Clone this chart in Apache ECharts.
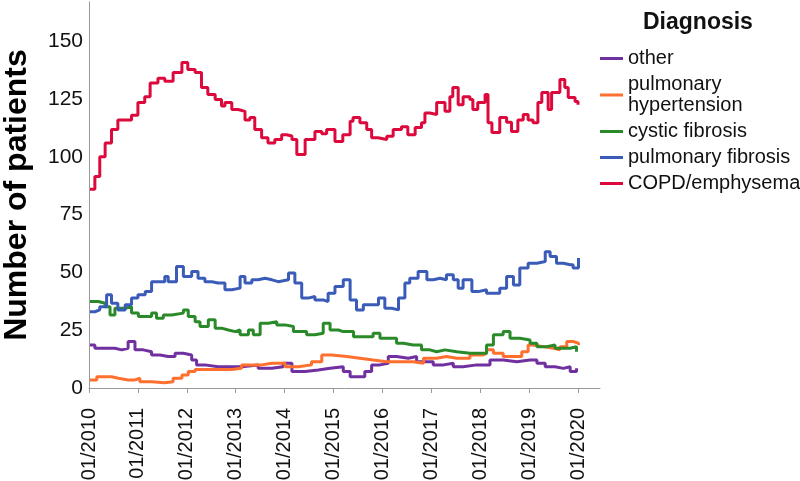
<!DOCTYPE html>
<html>
<head>
<meta charset="utf-8">
<script src="https://cdn.jsdelivr.net/npm/echarts@6/dist/echarts.min.js"></script>
<style>html,body{margin:0;padding:0;background:#fff}#c{width:800px;height:481px}</style>
</head>
<body>
<div id="c"></div>
<script>
// Series names (legend order)
const seriesNames = ['other', 'pulmonary\nhypertension', 'cystic fibrosis', 'pulmonary fibrosis', 'COPD/emphysema'];
// X tick labels (years, shown as 01/YYYY)
const xTickYears = [2010, 2011, 2012, 2013, 2014, 2015, 2016, 2017, 2018, 2019, 2020];
const yTickValues = [0, 25, 50, 75, 100, 125, 150];

// other
const otherYears = [2010.02,2010.12,2010.33,2010.53,2010.67,2010.80,2010.94,2011.11,2011.28,2011.45,2011.62,2011.76,2011.93,2012.10,2012.20,2012.37,2012.64,2012.92,2013.12,2013.46,2013.74,2013.97,2014.15,2014.42,2014.69,2014.93,2015.20,2015.34,2015.51,2015.64,2015.78,2015.95,2016.12,2016.29,2016.53,2016.70,2016.87,2017.04,2017.25,2017.45,2017.65,2017.93,2018.20,2018.47,2018.75,2019.02,2019.16,2019.33,2019.53,2019.70,2019.84,2019.97];
const otherValues = [18.6,17.2,17.2,16.5,17.2,20.1,16.5,15.7,14.3,13.6,13.6,15,14.3,12.1,10,9.2,9.2,9.2,10,8.5,9.2,10.7,7.1,7.8,8.5,9.2,7.1,4.9,4.9,7.1,10,10.7,13.6,12.9,13.6,11.4,11.4,10,10.7,9.2,10,10,12.1,11.4,12.1,12.1,10.7,9.2,8.5,9.2,7.1,8.5];

// pulmonary hypertension
const phYears = [2010.02,2010.16,2010.33,2010.46,2010.60,2010.80,2010.94,2011.04,2011.28,2011.55,2011.72,2011.90,2012.03,2012.17,2012.44,2012.71,2012.92,2013.12,2013.39,2013.53,2013.74,2014.01,2014.28,2014.55,2014.76,2014.96,2015.27,2015.54,2015.81,2016.09,2016.36,2016.63,2016.84,2017.11,2017.31,2017.52,2017.79,2018.06,2018.13,2018.27,2018.47,2018.68,2018.85,2018.98,2019.08,2019.29,2019.50,2019.63,2019.77,2019.90,2020.01];
const phValues = [3.5,4.9,4.9,4.2,3.5,3.5,4.2,2.7,2.3,2.7,4.2,5.6,7.1,8,8,8,8.5,10,10,10.7,10.7,9.2,10,11.4,14.3,13.6,12.9,12.1,11.4,11.4,11.4,10.7,12.9,13.6,12.9,12.9,14.3,15,16.5,15,13.6,13.6,15.7,18.6,17.9,17.2,16.5,17.9,20.1,19.4,18.6];

// cystic fibrosis
const cfYears = [2010.02,2010.19,2010.33,2010.43,2010.53,2010.74,2010.87,2011.01,2011.15,2011.28,2011.38,2011.52,2011.69,2011.93,2012.03,2012.17,2012.27,2012.44,2012.58,2012.71,2012.85,2012.99,2013.09,2013.26,2013.36,2013.50,2013.67,2013.84,2014.01,2014.18,2014.31,2014.45,2014.62,2014.79,2014.93,2015.10,2015.20,2015.41,2015.61,2015.81,2015.95,2016.12,2016.29,2016.43,2016.63,2016.80,2016.97,2017.11,2017.28,2017.52,2017.79,2017.99,2018.13,2018.27,2018.47,2018.61,2018.81,2019.02,2019.16,2019.36,2019.53,2019.70,2019.84,2019.97];
const cfValues = [37.4,36.7,35.2,31.6,34.5,35.2,32.4,30.9,30.9,32.4,30.2,31.6,32.4,33.8,30.9,28.7,26.6,29.5,25.9,25.1,24.4,25.1,23,25.1,23,28,28.7,27.3,26.6,24.4,24.4,23,23.7,28,25.1,24.4,24.4,22.2,22.2,23.7,21.5,21.5,19.4,18.6,18.6,16.5,15.7,16.5,15.7,15,15,15,18.6,23,24.4,21.5,20.8,19.4,17.9,18.6,17.2,17.2,17.9,15.7];

// pulmonary fibrosis
const pfYears = [2010.02,2010.12,2010.22,2010.36,2010.46,2010.59,2010.74,2010.87,2011.00,2011.15,2011.28,2011.41,2011.55,2011.62,2011.79,2011.93,2012.10,2012.23,2012.37,2012.51,2012.64,2012.78,2012.92,2013.09,2013.19,2013.33,2013.46,2013.60,2013.74,2013.87,2014.08,2014.21,2014.35,2014.48,2014.62,2014.79,2014.89,2015.03,2015.20,2015.34,2015.47,2015.61,2015.75,2015.92,2016.05,2016.19,2016.33,2016.46,2016.56,2016.73,2016.91,2017.04,2017.18,2017.31,2017.45,2017.55,2017.65,2017.83,2017.96,2018.13,2018.27,2018.40,2018.54,2018.68,2018.81,2018.98,2019.16,2019.33,2019.43,2019.56,2019.70,2019.84,2019.90,2020.01];
const pfValues = [33,33.8,35.2,40.3,36.7,33.8,36,38.9,40.3,41.7,46,46,48.2,46,52.6,48.2,50.4,47.5,46,45.4,45.4,42.5,43.2,48.2,45.4,46.8,47.5,46.8,46,46.8,49.7,45.4,38.9,39.6,38.1,37.4,41,43.9,46.8,38.1,33.8,36,36,38.9,34.5,33.8,38.9,45.4,47.5,50.4,46.8,47.5,46.8,49,46.8,43.2,46.8,41.7,42.5,41,41,43.2,48.2,44.6,51.9,54,54.7,59,56.9,54,53.3,53.3,51.9,56.2];

// COPD/emphysema
const copdYears = [2010.02,2010.12,2010.22,2010.33,2010.46,2010.59,2010.74,2010.87,2011.00,2011.14,2011.25,2011.41,2011.55,2011.72,2011.90,2012.02,2012.17,2012.30,2012.43,2012.58,2012.71,2012.78,2012.92,2013.05,2013.19,2013.29,2013.39,2013.53,2013.66,2013.80,2013.94,2014.04,2014.15,2014.25,2014.35,2014.42,2014.62,2014.76,2014.86,2015.03,2015.19,2015.34,2015.40,2015.54,2015.68,2015.78,2015.91,2016.09,2016.22,2016.39,2016.52,2016.67,2016.80,2016.87,2016.97,2017.11,2017.28,2017.38,2017.44,2017.55,2017.65,2017.79,2017.85,2017.95,2018.10,2018.16,2018.24,2018.40,2018.54,2018.64,2018.77,2018.88,2018.98,2019.08,2019.18,2019.26,2019.39,2019.46,2019.63,2019.73,2019.80,2019.94,2020.00];
const copdValues = [86,91.5,100,106,111.8,116,116,118,123.5,126,132,134,132.7,136.5,140.8,137.8,136.5,130,127,124.8,122,123.5,120.5,119.7,116,117,111.8,108.3,106,107.5,109.6,109,107.5,101,101,107.5,111,110,111.8,106.7,109.6,115.4,117,114.8,111.8,108.3,107.5,108.9,111.8,113,109.6,112.7,114.8,119,118.3,123.5,119.7,126,130,122.6,126,124.8,120.5,123.5,127,114.8,110.5,117,115,111,116,118.3,116,114.8,123.5,127.8,120.5,127.8,133.5,130,125.7,124,122.6];

const colors = ['#7030a0', '#ff6f2e', '#2a8a2a', '#3a5cb8', '#dc0a3c'];
const yearsList = [otherYears, phYears, cfYears, pfYears, copdYears];
const valuesList = [otherValues, phValues, cfValues, pfValues, copdValues];

const series = seriesNames.map((name, i) => ({
  name: name,
  type: 'line',
  step: 'end',
  showSymbol: false,
  symbol: 'none',
  data: yearsList[i].map((y, k) => [y, valuesList[i][k]]),
  lineStyle: { width: 3, color: colors[i] },
  itemStyle: { color: colors[i] },
  z: 2 + i
}));

const chart = echarts.init(document.getElementById('c'), null, { renderer: 'canvas' });
const font = 'Liberation Sans, Arial, sans-serif';
chart.setOption({
  animation: false,
  backgroundColor: '#ffffff',
  textStyle: { fontFamily: font },
  title: {
    text: 'Diagnosis',
    left: 643, top: 11, padding: 0,
    textStyle: { fontFamily: font, fontSize: 23, fontWeight: 'bold', color: '#111' }
  },
  legend: {
    orient: 'vertical',
    left: 600, top: 48,
    padding: 0,
    itemWidth: 23, itemHeight: 3,
    itemGap: 5,
    icon: 'rect',
    textStyle: { fontFamily: font, fontSize: 20, lineHeight: 21, color: '#111' },
    data: seriesNames
  },
  grid: { left: 89, right: 200, top: 2, bottom: 93, containLabel: false, outerBoundsMode: 'none' },
  xAxis: {
    type: 'value',
    min: 2010, max: 2020.45,
    interval: 1,
    splitLine: { show: false },
    axisLine: { lineStyle: { color: '#9a9a9a', width: 1 } },
    axisTick: { show: true, length: 5, lineStyle: { color: '#9a9a9a' }, customValues: xTickYears },
    axisLabel: {
      rotate: 90, margin: 20, fontSize: 20, color: '#111', fontFamily: font,
      customValues: xTickYears,
      formatter: v => '01/' + Math.round(v)
    }
  },
  yAxis: {
    type: 'value',
    min: 0, max: 167,
    interval: 25,
    name: 'Number of patients',
    nameLocation: 'middle',
    nameRotate: 90,
    nameGap: 56,
    nameTextStyle: { fontFamily: font, fontSize: 32, fontWeight: 'bold', color: '#000' },
    splitLine: { show: false },
    axisLine: { show: true, lineStyle: { color: '#9a9a9a', width: 1 } },
    axisTick: { show: false },
    axisLabel: {
      margin: 6, fontSize: 21, color: '#111', fontFamily: font,
      customValues: yTickValues,
      formatter: v => String(v)
    }
  },
  series: series
});
</script>
</body>
</html>
